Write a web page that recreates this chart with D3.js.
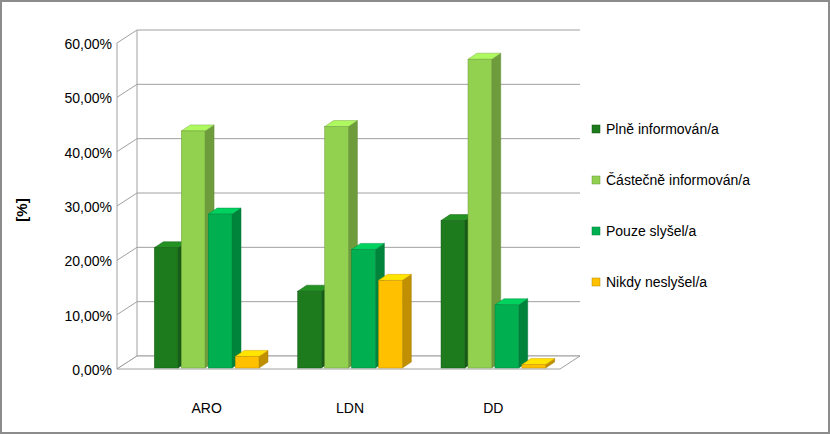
<!DOCTYPE html>
<html><head><meta charset="utf-8">
<script src="https://cdn.jsdelivr.net/npm/d3@7"></script>
<style>body{margin:0;background:#fff}text{font-family:"Liberation Sans",Arial,sans-serif}</style>
</head><body>
<script>
const categories = ["ARO", "LDN", "DD"];
const series = ["Plně informován/a", "Částečně informován/a", "Pouze slyšel/a", "Nikdy neslyšel/a"];
const colors = ["#1d7a1d", "#92d050", "#00b050", "#ffc000"];
const values = [
  [0.225, 0.145, 0.275],
  [0.440, 0.448, 0.572],
  [0.287, 0.222, 0.120],
  [0.025, 0.165, 0.010]
];
const yTicks = [0, 0.1, 0.2, 0.3, 0.4, 0.5, 0.6];

const w = 830, h = 434;
const svg = d3.select("body").append("svg").attr("width", w).attr("height", h);
svg.append("rect").attr("x", 1).attr("y", 1).attr("width", w - 2).attr("height", h - 2)
  .attr("fill", "#fff").attr("stroke", "#8c8c8c").attr("stroke-width", 2);

const y = d3.scaleLinear().domain([0, 0.6]).range([370, 44]);
const dx = -20, dy = 13; // floor depth (back -> front)
const wallL = 137, wallR = 580;

// back wall gridlines and left wall
yTicks.forEach(t => {
  svg.append("line").attr("x1", wallL).attr("x2", wallR).attr("y1", y(t) - 14).attr("y2", y(t) - 14)
    .attr("stroke", "#a0a0a0");
  svg.append("line").attr("x1", wallL + dx).attr("x2", wallL).attr("y1", y(t) - 14 + dy).attr("y2", y(t) - 14)
    .attr("stroke", "#a0a0a0");
});
svg.append("line").attr("x1", wallL).attr("x2", wallL).attr("y1", y(0.6) - 14).attr("y2", y(0) - 14).attr("stroke", "#a0a0a0");
svg.append("line").attr("x1", wallL + dx).attr("x2", wallL + dx).attr("y1", y(0.6) - 14 + dy).attr("y2", y(0) - 14 + dy).attr("stroke", "#a0a0a0");
// floor
svg.append("path").attr("d", `M${wallL},${y(0) - 14}L${wallR},${y(0) - 14}L${wallR + dx},${y(0) - 1}L${wallL + dx},${y(0) - 1}Z`)
  .attr("fill", "#fff").attr("stroke", "#a0a0a0");

// y axis labels
svg.selectAll(".ylab").data(yTicks).enter().append("text").attr("class", "ylab")
  .attr("x", 112).attr("y", d => y(d) + 5).attr("text-anchor", "end").attr("font-size", 14)
  .text(d => d3.format(".2f")(d * 100).replace(".", ",") + "%");
svg.append("text").attr("transform", "translate(27,210) rotate(-90)").attr("text-anchor", "middle")
  .attr("font-size", 15).attr("font-weight", "bold").text("[%]");

const x0 = d3.scaleBand().domain(categories).range([140, 560]).paddingInner(0.27).paddingOuter(0.1);
const x1 = d3.scaleBand().domain(d3.range(4)).range([0, x0.bandwidth()]).paddingInner(0.12);
const bw = x1.bandwidth(), ox = 9, oy = -6, base = 368;

categories.forEach((c, ci) => {
  series.forEach((s, si) => {
    const v = values[si][ci];
    const bx = x0(c) + x1(si), top = y(v) - 2 + 2;
    const col = d3.color(colors[si]);
    const g = svg.append("g");
    g.append("path").attr("d", `M${bx + bw},${top}L${bx + bw + ox},${top + oy}L${bx + bw + ox},${base + oy}L${bx + bw},${base}Z`)
      .attr("fill", col.darker(0.8)).attr("stroke", col.darker(1.2)).attr("stroke-width", 0.5);
    g.append("path").attr("d", `M${bx},${top}L${bx + ox},${top + oy}L${bx + bw + ox},${top + oy}L${bx + bw},${top}Z`)
      .attr("fill", col.brighter(0.5)).attr("stroke", col.darker(0.5)).attr("stroke-width", 0.5);
    g.append("rect").attr("x", bx).attr("y", top).attr("width", bw).attr("height", base - top)
      .attr("fill", colors[si]).attr("stroke", col.darker(0.8)).attr("stroke-width", 0.5);
  });
  svg.append("text").attr("x", x0(c) + x0.bandwidth() / 2).attr("y", 413).attr("text-anchor", "middle")
    .attr("font-size", 14).text(c);
});

// legend
series.forEach((s, i) => {
  const ly = 130 + i * 51;
  svg.append("rect").attr("x", 592).attr("y", ly - 5).attr("width", 8).attr("height", 8)
    .attr("fill", colors[i]).attr("stroke", d3.color(colors[i]).darker(1)).attr("stroke-width", 0.5);
  svg.append("text").attr("x", 606).attr("y", ly + 4).attr("font-size", 14).text(s);
});
</script>
</body></html>
